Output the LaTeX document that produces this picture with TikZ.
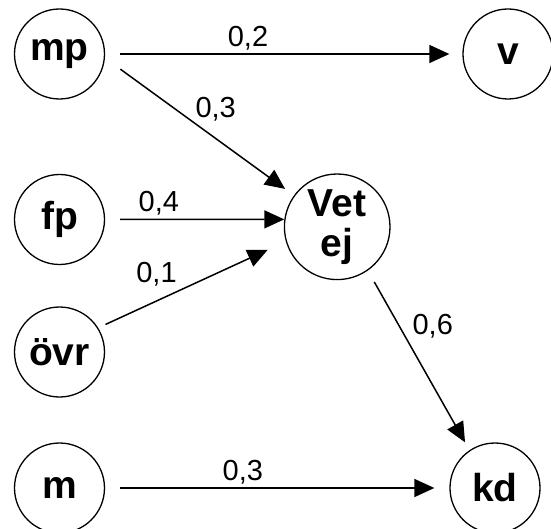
\documentclass[tikz,border=0pt]{standalone}
\usepackage{fontspec}
\setmainfont{Liberation Sans}
\usetikzlibrary{arrows.meta}

\begin{document}
\begin{tikzpicture}[x=1pt, y=1pt,
    sn/.style={circle, draw, line width=1.3pt, inner sep=0pt, minimum size=90pt,
      font=\fontsize{39}{40}\selectfont\bfseries},
    bn/.style={sn, minimum size=105.6pt, align=center},
    lb/.style={font=\fontsize{29}{30}\selectfont},
    ->/.style={-{Triangle[length=20pt, width=18pt]}, line width=1.5pt}]
  \useasboundingbox (0,0) rectangle (551,528);
  \node[sn] (mp) at (59.5,474) {mp};
  \node[sn] (v) at (508,474) {v};
  \node[sn] (fp) at (59.5,308.5) {fp};
  \node[bn] (vetej) at (337.2,301.2) {Vet\\ej};
  \node[sn] (ovr) at (59.5,176) {övr};
  \node[sn] (m) at (59.5,40) {m};
  \node[sn] (kd) at (495,40) {kd};
  \draw [->, shorten <=15pt, shorten >=13pt] (mp.east) to node[lb, pos=.4, above] {0,2} (v.west);
  \draw [->, shorten <=19pt, shorten >=11pt] (mp.-5) to node[lb, pos=.47, above right, inner sep=1pt] {0,3} (vetej.144);
  \draw [->, shorten <=15pt] (fp.east) to node[lb, pos=.3, above] {0,4} (vetej.172);
  \draw [->, shorten <=8pt, shorten >=20pt] (ovr.32) to node[lb, pos=.44, above left] {0,1} (vetej.196);
  \draw [->, shorten <=13pt, shorten >=9pt] (vetej.-55) to node[lb, pos=.4, above right] {0,6} (kd.124);
  \draw [->, shorten <=15pt, shorten >=15pt] (m.east) to node[lb, pos=.4, above] {0,3} (kd.west);
\end{tikzpicture}
\end{document}
